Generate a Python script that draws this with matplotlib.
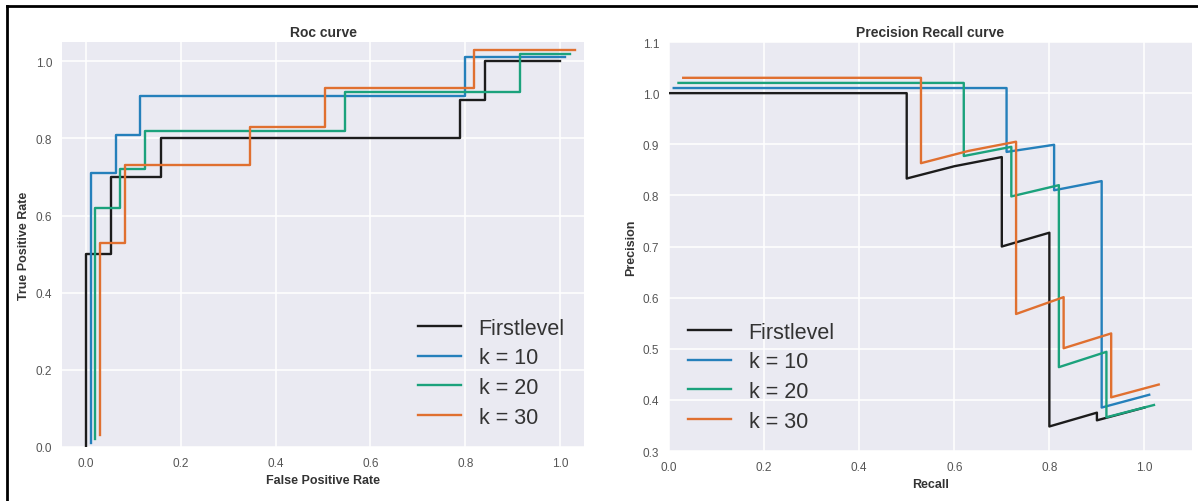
import matplotlib
matplotlib.use('Agg')
import matplotlib.pyplot as plt
from matplotlib.lines import Line2D

plt.rcParams['font.family'] = ['Liberation Sans', 'DejaVu Sans']

## curve names and colours
labels = ['Firstlevel', 'k = 10', 'k = 20', 'k = 30']
colors = ['#1c1c1c', '#2580bb', '#1ba27c', '#e07030']

## roc curves (as drawn, each one shifted a little)
roc_fpr = [
    [0, 0, 0.053, 0.053, 0.158, 0.158, 0.789, 0.789, 0.842, 0.842, 1.0],
    [0.01, 0.01, 0.063, 0.063, 0.115, 0.115, 0.799, 0.799, 1.01],
    [0.02, 0.02, 0.073, 0.073, 0.125, 0.125, 0.546, 0.546, 0.915, 0.915, 1.02],
    [0.03, 0.03, 0.083, 0.083, 0.346, 0.346, 0.504, 0.504, 0.819, 0.819, 1.03],
]
roc_tpr = [
    [0, 0.5, 0.5, 0.7, 0.7, 0.8, 0.8, 0.9, 0.9, 1.0, 1.0],
    [0.01, 0.71, 0.71, 0.81, 0.81, 0.91, 0.91, 1.01, 1.01],
    [0.02, 0.62, 0.62, 0.72, 0.72, 0.82, 0.82, 0.92, 0.92, 1.02, 1.02],
    [0.03, 0.53, 0.53, 0.73, 0.73, 0.83, 0.83, 0.93, 0.93, 1.03, 1.03],
]

## precision recall curves
pr_recall = [
    [0, 0.5, 0.5, 0.6, 0.7, 0.7, 0.8, 0.8, 0.9, 0.9, 1.0],
    [0.01, 0.71, 0.71, 0.81, 0.81, 0.91, 0.91, 1.01],
    [0.02, 0.62, 0.62, 0.72, 0.72, 0.82, 0.82, 0.92, 0.92, 1.02],
    [0.03, 0.53, 0.53, 0.63, 0.73, 0.73, 0.83, 0.83, 0.93, 0.93, 1.03],
]
pr_precision = [
    [1.0, 1.0, 0.833, 0.857, 0.875, 0.70, 0.727, 0.348, 0.375, 0.36, 0.385],
    [1.01, 1.01, 0.885, 0.899, 0.81, 0.828, 0.385, 0.41],
    [1.02, 1.02, 0.877, 0.895, 0.798, 0.82, 0.464, 0.494, 0.366, 0.39],
    [1.03, 1.03, 0.863, 0.887, 0.905, 0.568, 0.601, 0.501, 0.53, 0.405, 0.43],
]

fig = plt.figure(figsize=(11.98, 5.02), dpi=100)
ax1 = fig.add_axes([0.0518, 0.1076, 0.4357, 0.8068])
ax2 = fig.add_axes([0.5584, 0.0996, 0.4366, 0.8147])

for ax in (ax1, ax2):
    ax.set_facecolor('#EAEAF2')
    for s in ax.spines.values():
        s.set_visible(False)
    ax.grid(True, color='white', lw=1.1)
    ax.set_axisbelow(True)
    ax.tick_params(length=0, pad=7, labelsize=8.5, labelcolor='#555555')

for fpr, tpr, lab, c in zip(roc_fpr, roc_tpr, labels, colors):
    ax1.plot(fpr, tpr, color=c, lw=1.7, label=lab)
ax1.set_xlim(-0.05, 1.05)
ax1.set_ylim(0, 1.05)
ax1.set_xticks([0, 0.2, 0.4, 0.6, 0.8, 1.0])
ax1.set_yticks([0, 0.2, 0.4, 0.6, 0.8, 1.0])
ax1.set_title('Roc curve', fontsize=10, fontweight='bold', color='#333333', pad=4)
ax1.set_xlabel('False Positive Rate', fontsize=9, fontweight='bold', color='#333333')
ax1.set_ylabel('True Positive Rate', fontsize=9, fontweight='bold', color='#333333')
ax1.legend(loc='lower right', fontsize=15.5, frameon=False, labelspacing=0.4,
           labelcolor='#333333')

for r, p, lab, c in zip(pr_recall, pr_precision, labels, colors):
    ax2.plot(r, p, color=c, lw=1.7, label=lab)
ax2.set_xlim(0, 1.1)
ax2.set_ylim(0.3, 1.1)
ax2.set_xticks([0, 0.2, 0.4, 0.6, 0.8, 1.0])
ax2.set_yticks([0.3, 0.4, 0.5, 0.6, 0.7, 0.8, 0.9, 1.0, 1.1])
ax2.set_title('Precision Recall curve', fontsize=10, fontweight='bold', color='#333333', pad=4)
ax2.set_xlabel('Recall', fontsize=9, fontweight='bold', color='#333333')
ax2.set_ylabel('Precision', fontsize=9, fontweight='bold', color='#333333')
ax2.legend(loc='lower left', fontsize=15.5, frameon=False, labelspacing=0.4,
           labelcolor='#333333')

# black frame on the top and left of the picture
fig.add_artist(Line2D([7/1198, 7/1198], [0, 1 - 7/502], transform=fig.transFigure,
                      color='black', lw=2))
fig.add_artist(Line2D([7/1198, 1], [1 - 7/502, 1 - 7/502], transform=fig.transFigure,
                      color='black', lw=2))

fig.savefig('out.png', dpi=100)
